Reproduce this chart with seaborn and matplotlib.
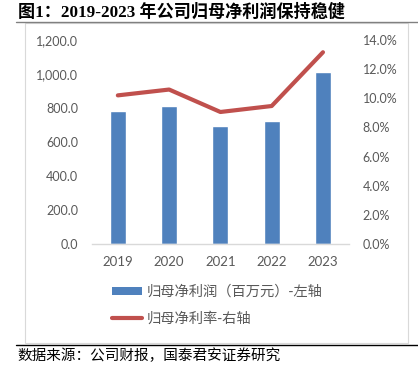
import numpy as np
import pandas as pd
import matplotlib
matplotlib.use("Agg")
import matplotlib.pyplot as plt
import seaborn as sns
from matplotlib.lines import Line2D
from matplotlib.patches import Rectangle, Patch
from matplotlib.ticker import FuncFormatter, MultipleLocator

years = ["2019", "2020", "2021", "2022", "2023"]
net_profit = [782, 812, 692, 724, 1010]          # 百万元
net_margin = [10.2, 10.6, 9.06, 9.47, 13.16]      # %

title = "图1：2019-2023 年公司归母净利润保持稳健"
source = "数据来源：公司财报，国泰君安证券研究"
bar_label = "归母净利润（百万元）-左轴"
line_label = "归母净利率-右轴"

sns.set_style("white")
plt.rcParams['font.family'] = ['Lato', 'Noto Sans CJK SC', 'DejaVu Sans']

W, H = 418, 373
fig = plt.figure(figsize=(W / 100, H / 100), dpi=100)

def fx(x):
    return x / W

def fy(y):
    return 1 - y / H

ax = fig.add_axes([fx(92.2), fy(244), (348.6 - 92.2) / W, 204 / H])
df = pd.DataFrame({"year": years, "profit": net_profit, "margin": net_margin})

bar_color = "#4F81BD"
line_color = "#C0504D"
tick_color = "#595959"

sns.barplot(data=df, x="year", y="profit", color=bar_color, width=0.31,
            saturation=1, ax=ax)
ax.set_xlim(-0.5, len(years) - 0.5)
ax.set_ylim(0, 1200)
ax.yaxis.set_major_locator(MultipleLocator(200))
ax.yaxis.set_major_formatter(FuncFormatter(lambda v, p: f"{v:,.1f}"))
ax.set_xlabel("")
ax.set_ylabel("")

ax2 = ax.twinx()
sns.lineplot(x=np.arange(len(years)), y=df["margin"], color=line_color,
             linewidth=3, ax=ax2, solid_capstyle="round")
ax2.set_ylim(0, 14)
ax2.yaxis.set_major_locator(MultipleLocator(2))
ax2.yaxis.set_major_formatter(FuncFormatter(lambda v, p: f"{v:.1f}%"))
ax2.set_ylabel("")
ax2.set_xlim(-0.5, len(years) - 0.5)

for a in (ax, ax2):
    for s in a.spines.values():
        s.set_visible(False)
ax.spines["bottom"].set_visible(True)
ax.spines["bottom"].set_color("#d9d9d9")
ax.spines["bottom"].set_linewidth(1)

ax.tick_params(axis="y", length=0, pad=10, labelsize=9, labelcolor=tick_color)
ax.tick_params(axis="x", length=0, pad=9, labelsize=9.5, labelcolor=tick_color)
ax2.tick_params(axis="y", length=0, pad=10, labelsize=9, labelcolor=tick_color)

handles = [Patch(facecolor=bar_color, edgecolor="none"),
           Line2D([0], [0], color=line_color, linewidth=3, solid_capstyle="round")]
leg = fig.legend(handles, [bar_label, line_label], loc="upper left",
                 bbox_to_anchor=(fx(112), fy(285)), frameon=False,
                 borderpad=0, borderaxespad=0, handlelength=2.1,
                 handleheight=0.55, handletextpad=0.35, labelspacing=0.87,
                 prop={"family": ["Noto Sans CJK SC"], "size": 10.3})
for t in leg.get_texts():
    t.set_color(tick_color)

# frame decorations
fig.add_artist(Rectangle((fx(25), fy(342.5)), (408 - 25) / W, (342.5 - 22.5) / H,
                         transform=fig.transFigure, fill=False,
                         edgecolor="#d9d9d9", linewidth=0.8))
fig.add_artist(Line2D([fx(16), fx(418)], [fy(22), fy(22)],
                      transform=fig.transFigure, color="#808080", linewidth=1))
fig.add_artist(Line2D([fx(16), fx(418)], [fy(345), fy(345)],
                      transform=fig.transFigure, color="#000000", linewidth=1))

fig.text(fx(18), fy(12), title, ha="left", va="center", fontsize=12.3,
         fontweight="bold", family=["Liberation Serif", "Noto Sans CJK SC"],
         color="black")
fig.text(fx(17), fy(356), source, ha="left", va="center", fontsize=10.5,
         family=["Noto Sans CJK SC"], color="black")

fig.savefig("out.png", dpi=100)
